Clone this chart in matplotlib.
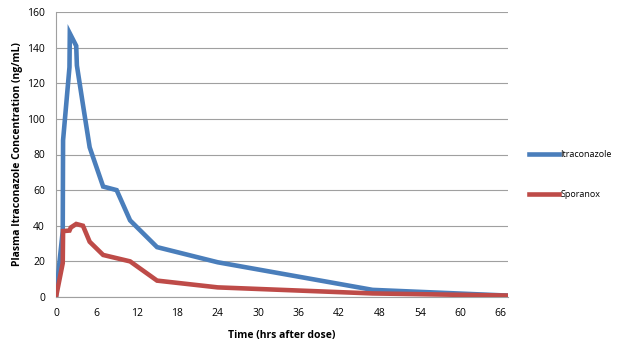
import matplotlib
matplotlib.use("Agg")
import matplotlib.pyplot as plt

# Zeitpunkte (h) und Konzentrationen (ng/mL)
time_itra = [0, 0.5, 1, 1.05, 2, 2.05, 3, 3.1, 4, 5, 7, 9, 11, 15, 24, 47, 67]
itraconazole = [0, 19, 37, 88, 129, 148, 141, 130, 108, 84, 62, 60, 43, 28, 19.5, 4, 0.8]

time_spor = [0, 1, 1.05, 2, 2.2, 3, 4, 5, 7, 11, 15, 24, 47, 67]
sporanox = [0, 19, 37, 37.3, 39, 41, 40, 31, 23.6, 20, 9.2, 5.4, 2, 0.8]

xticks = list(range(0, 67, 6))
yticks = list(range(0, 161, 20))

plt.rcParams['font.family'] = ['Open Sans', 'DejaVu Sans']

fig = plt.figure(figsize=(6.18, 3.48), dpi=100)
ax = fig.add_axes([56/618, 51/348, 452/618, 285/348])

ax.plot(time_itra, itraconazole, color="#4A7EBB", lw=3.3, label="Itraconazole",
        solid_joinstyle="miter", zorder=3)
ax.plot(time_spor, sporanox, color="#BE4B48", lw=3.3, label="Sporanox",
        solid_joinstyle="miter", zorder=4)

ax.set_xlim(0, 67.1)
ax.set_ylim(0, 160)
ax.set_xticks(xticks)
ax.set_yticks(yticks)
ax.tick_params(length=0, labelsize=7.5, pad=8)
ax.grid(True, axis="y", color="#A0A0A0", lw=0.8)
ax.set_axisbelow(True)
for s in ["top", "right"]:
    ax.spines[s].set_visible(False)
for s in ["left", "bottom"]:
    ax.spines[s].set_color("#A0A0A0")

ax.set_xlabel("Time (hrs after dose)", fontsize=7.5, fontweight="bold", labelpad=8)
ax.set_ylabel("Plasma Itraconazole Concentration (ng/mL)", fontsize=7.5,
              fontweight="bold", labelpad=3)

leg = ax.legend(loc="center left", bbox_to_anchor=(1.038, 0.43), frameon=False,
                fontsize=6.5, handlelength=3.4, handletextpad=0.1, labelspacing=3.4,
                borderaxespad=0)

fig.savefig("out.png", dpi=100)
